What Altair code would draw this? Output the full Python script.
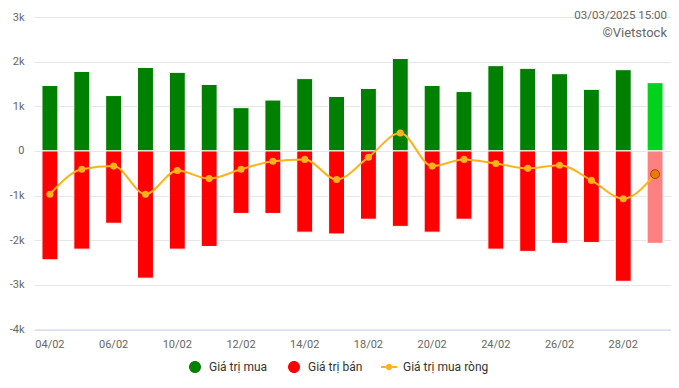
import altair as alt
import pandas as pd

DATES = ["04/02", "05/02", "06/02", "07/02", "10/02", "11/02", "12/02", "13/02", "14/02", "17/02",
         "18/02", "19/02", "20/02", "21/02", "24/02", "25/02", "26/02", "27/02", "28/02", "03/03"]
BUY = [1465, 1780, 1240, 1870, 1760, 1490, 970, 1140, 1620, 1220,
       1400, 2070, 1465, 1330, 1910, 1850, 1730, 1380, 1820, 1530]
SELL = [-2440, -2200, -1620, -2850, -2200, -2140, -1400, -1400, -1820, -1860,
        -1530, -1690, -1820, -1530, -2200, -2250, -2070, -2050, -2920, -2070]
NET = [-970, -410, -340, -970, -440, -620, -410, -230, -190, -640,
       -140, 400, -340, -190, -280, -390, -320, -660, -1070, -520]
X_LABELS = ["04/02", "06/02", "10/02", "12/02", "14/02", "18/02", "20/02", "24/02", "26/02", "28/02"]
SERIES = ["Giá trị mua", "Giá trị bán", "Giá trị mua ròng"]
COLORS = ["#008000", "#ff0000", "#ffb21a"]
LAST = "03/03"
STAMP = ["03/03/2025 15:00"]
CREDIT = ["©Vietstock"]

df = pd.DataFrame({"date": DATES, "buy": BUY, "sell": SELL, "net": NET})
legend_df = pd.DataFrame({"series": SERIES})

FONT = "Roboto"

x = alt.X("date:N", sort=DATES, title=None,
          scale=alt.Scale(paddingInner=0.5, paddingOuter=0.25),
          axis=alt.Axis(values=X_LABELS, labelAngle=0, tickSize=0, ticks=False, labelPadding=9,
                        domainColor="#ccd6eb", grid=False, labelFont=FONT, labelFontSize=11,
                        labelColor="#666666"))
yscale = alt.Scale(domain=[-4000, 3000], nice=False, zero=False)
yaxis = alt.Axis(values=[-4000, -3000, -2000, -1000, 0, 1000, 2000, 3000],
                 labelExpr="datum.value == 0 ? '0' : (datum.value/1000) + 'k'",
                 domain=False, ticks=False, tickSize=0, labelPadding=10, gridColor="#e6e6e6",
                 labelFont=FONT, labelFontSize=11, labelColor="#666666", title=None)

circle_big = "M-0.75,0 A0.75,0.75 0 1,0 0.75,0 A0.75,0.75 0 1,0 -0.75,0 Z"
line_dot = ("M-1,-0.125 L-0.36,-0.125 L-0.36,0.125 L-1,0.125 Z "
            "M0.36,-0.125 L1,-0.125 L1,0.125 L0.36,0.125 Z "
            "M-0.4,0 A0.4,0.4 0 1,0 0.4,0 A0.4,0.4 0 1,0 -0.4,0 Z")

legend = alt.Legend(
    title=None, orient="none", direction="horizontal", legendX=153, legendY=342,
    labelFont=FONT, labelFontSize=12, labelColor="#333333", labelOffset=6,
    columnPadding=18, symbolSize=256, symbolStrokeWidth=0, padding=0, symbolOpacity=1)

cscale = alt.Scale(domain=SERIES, range=COLORS)
sscale = alt.Scale(domain=SERIES, range=[circle_big, circle_big, line_dot])

base = alt.Chart(df)

buy = base.mark_bar(stroke="white", strokeWidth=1).transform_calculate(
    series="'" + SERIES[0] + "'").encode(
    x=x, y=alt.Y("buy:Q", scale=yscale, axis=yaxis), y2=alt.datum(0),
    color=alt.condition(alt.datum.date == LAST, alt.value("#00d21e"),
                        alt.Color("series:N", scale=cscale, legend=legend)))

sell = base.mark_bar(stroke="white", strokeWidth=1).transform_calculate(
    series="'" + SERIES[1] + "'").encode(
    x=x, y=alt.Y("sell:Q", scale=yscale, axis=yaxis), y2=alt.datum(0),
    color=alt.condition(alt.datum.date == LAST, alt.value("#ff8080"),
                        alt.Color("series:N", scale=cscale, legend=legend)))

line = base.mark_line(strokeWidth=2, interpolate="monotone").transform_calculate(
    series="'" + SERIES[2] + "'").encode(
    x=x, y=alt.Y("net:Q", scale=yscale, axis=yaxis),
    color=alt.Color("series:N", scale=cscale, legend=legend))

pts = base.mark_point(filled=True, opacity=1).encode(
    x=x, y=alt.Y("net:Q", scale=yscale, axis=yaxis),
    fill=alt.condition(alt.datum.date == LAST, alt.value("#f07800"), alt.value("#ffb21a")),
    stroke=alt.condition(alt.datum.date == LAST, alt.value("#9a4a10"), alt.value("#ffb21a")),
    strokeWidth=alt.condition(alt.datum.date == LAST, alt.value(1), alt.value(0)),
    size=alt.condition(alt.datum.date == LAST, alt.value(80), alt.value(50)))

# legend-only layer: its rows are filtered out, the explicit scale domains give the entries
leg = alt.Chart(legend_df).mark_point(filled=True, size=256, opacity=1, strokeWidth=0).transform_filter(
    "false").encode(
    color=alt.Color("series:N", scale=cscale, legend=legend),
    shape=alt.Shape("series:N", scale=sscale, legend=legend))

stamp = alt.Chart(pd.DataFrame({"t": STAMP})).mark_text(
    align="right", baseline="middle", font=FONT, fontSize=11.5, color="#666666").encode(
    x=alt.value(633), y=alt.value(-1), text="t:N")
credit = alt.Chart(pd.DataFrame({"t": CREDIT})).mark_text(
    align="right", baseline="middle", font=FONT, fontSize=13, color="#666666").encode(
    x=alt.value(633), y=alt.value(16), text="t:N")

chart = alt.layer(buy, sell, line, pts, leg, stamp, credit).properties(
    width=637, height=312.5,
    autosize=alt.AutoSizeParams(type="none"),
    padding={"left": 26, "top": 9, "right": 0, "bottom": 46},
).configure(background="white", view=alt.ViewConfig(stroke=None))

chart.save("out.html", embed_options={"renderer": "svg", "actions": False})
